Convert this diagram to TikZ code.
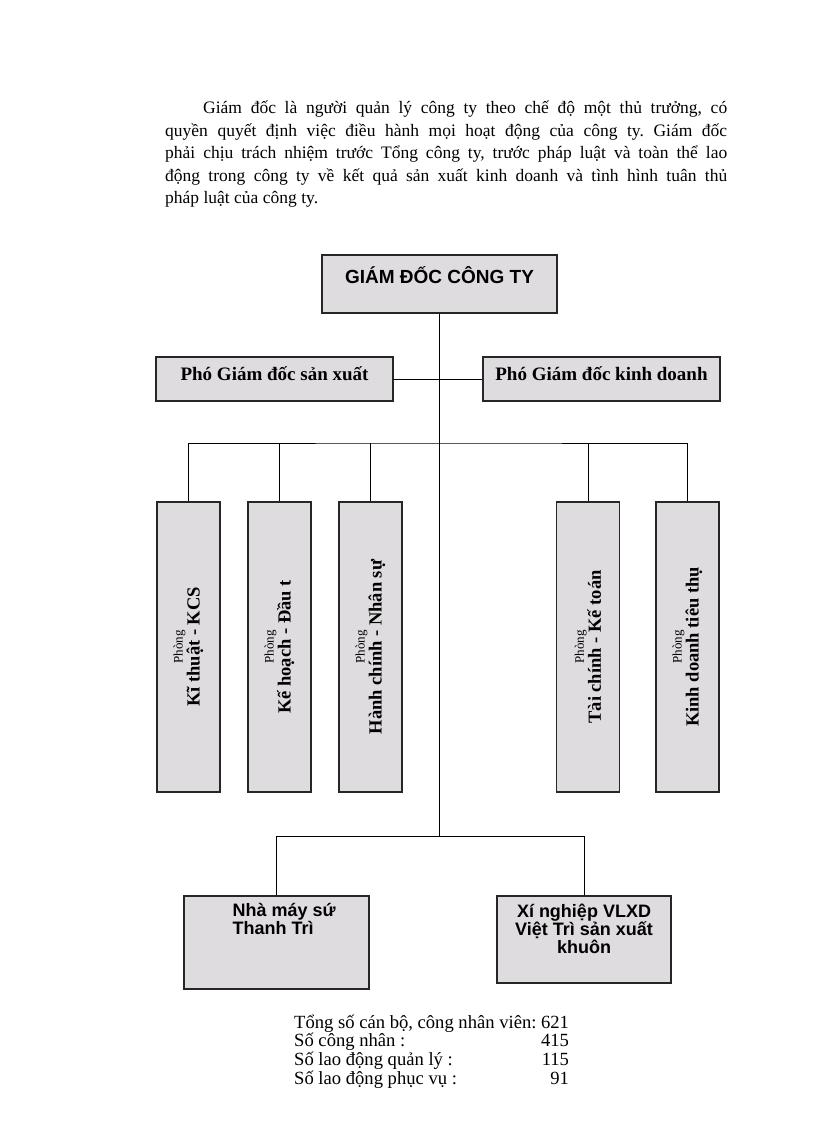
\documentclass[tikz,border=0pt]{standalone}
\usepackage{fontspec}
\setmainfont{Liberation Serif}
\setsansfont{Liberation Sans}
\frenchspacing
\definecolor{hopxam}{RGB}{222,220,222}
\begin{document}
\begin{tikzpicture}[x=1pt,y=-1pt]
  \tikzstyle{hop}=[draw=black!85,line width=1.2pt,fill=hopxam,inner sep=0pt]
  \tikzstyle{pho}=[hop,minimum width=237pt,minimum height=44pt]
  \tikzstyle{chu pho}=[anchor=center,yshift=5pt,inner sep=0pt,font=\fontsize{19}{19}\selectfont\bfseries]
  \tikzstyle{phong}=[hop,minimum width=63pt,minimum height=290pt]
  \tikzstyle{chu phong}=[rotate=90,align=center,inner sep=0pt,font=\fontsize{18.5}{17}\selectfont\bfseries]
  \tikzstyle{don vi}=[hop]
  \tikzstyle{chu don vi}=[inner sep=0pt,font=\fontsize{18}{16.5}\selectfont\sffamily\bfseries]
  \tikzstyle{noi}=[line width=0.9pt]
  \useasboundingbox (0,0) rectangle (816,1123);
  \node(doan)[anchor=north west,text width=562pt,align=justify,inner sep=0pt,font=\fontsize{17.5}{22.5}\selectfont] at (165,101) {%
    \noindent\hspace*{38pt}Giám đốc là người quản lý công ty theo chế độ một thủ trưởng, có\linebreak
    quyền quyết định việc điều hành mọi hoạt động của công ty. Giám đốc\linebreak
    phải chịu trách nhiệm trước Tổng công ty, trước pháp luật và toàn thể lao\linebreak
    động trong công ty về kết quả sản xuất kinh doanh và tình hình tuân thủ\linebreak
    pháp luật của công ty.};
  \node(gd)[hop,minimum width=235pt,minimum height=58pt,
    label={[anchor=center,yshift=9pt,font=\fontsize{19}{19}\selectfont\sffamily\bfseries]center:{GIÁM ĐỐC CÔNG TY}}] at (439.5,284) {};
  \node(pgsx)[pho,label={[chu pho]center:{Phó Giám đốc sản xuất}}] at (274.5,379) {};
  \node(pgkd)[pho,label={[chu pho]center:{Phó Giám đốc kinh doanh}}] at (601.5,379) {};
  \node(pkt)[phong,label={[chu phong]center:{{\fontsize{13}{13}\selectfont\mdseries Phòng}\\Kĩ thuật - KCS}}] at (188.5,647) {};
  \node(pkh)[phong,label={[chu phong]center:{{\fontsize{13}{13}\selectfont\mdseries Phòng}\\Kế hoạch - Đầu t}}] at (279.5,647) {};
  \node(phc)[phong,label={[chu phong]center:{{\fontsize{13}{13}\selectfont\mdseries Phòng}\\Hành chính - Nhân sự}}] at (370.5,647) {};
  \node(ptc)[phong,label={[chu phong]center:{{\fontsize{13}{13}\selectfont\mdseries Phòng}\\Tài chính - Kế toán}}] at (588,647) {};
  \node(pkd)[phong,label={[chu phong]center:{{\fontsize{13}{13}\selectfont\mdseries Phòng}\\Kinh doanh tiêu thụ}}] at (687.5,647) {};
  \node(nmsu)[don vi,minimum width=185pt,minimum height=93pt,
    label={[chu don vi,anchor=north west,xshift=49pt,yshift=-8pt,align=left]north west:{Nhà máy sứ\\Thanh Trì}}] at (276.5,942.5) {};
  \node(xnvl)[don vi,minimum width=174pt,minimum height=87pt,
    label={[chu don vi,anchor=north,yshift=-8pt,align=center]north:{Xí nghiệp VLXD\\Việt Trì sản xuất\\khuôn}}] at (584,939.5) {};
  \node(tongso)[anchor=base west,inner sep=0pt,font=\fontsize{18.6}{18}\selectfont] at (294,1028) {%
    \begin{tabular}[t]{@{}l@{}r@{}}
      \multicolumn{2}{@{}l@{}}{Tổng số cán bộ, công nhân viên: 621}\\
      Số công nhân : & 415\\
      Số lao động quản lý : & 115\\
      Số lao động phục vụ : & 91\\
    \end{tabular}};
  \coordinate(bus) at (439.5,443);
  \coordinate(duoi) at (439.5,836);
  \draw[noi] (gd.south) -- (duoi);
  \draw[noi] (pgsx.east) -- (pgkd.west);
  \draw[noi] (pkt.north) |- (bus) -| (pkd.north);
  \foreach \p in {pkh,phc,ptc}
    \draw[noi] (\p.north) -- (\p.north |- bus);
  \draw[noi] (nmsu.north) |- (duoi) -| (xnvl.north);
\end{tikzpicture}
\end{document}
